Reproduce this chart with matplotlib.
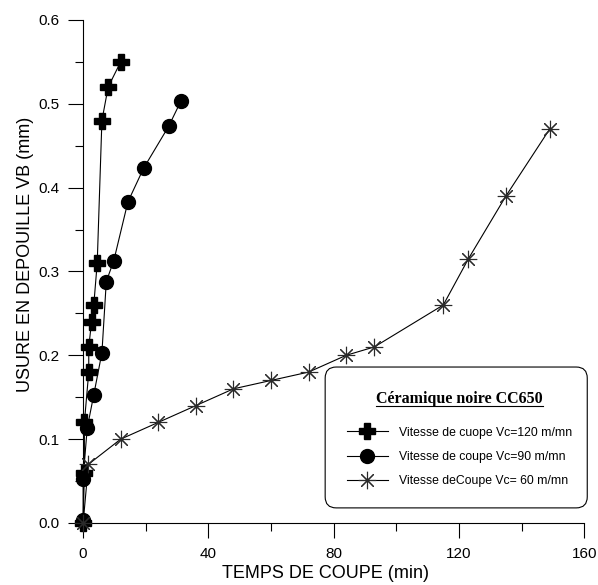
import matplotlib
matplotlib.use('Agg')
import matplotlib.pyplot as plt
from matplotlib.lines import Line2D
from matplotlib.patches import FancyBboxPatch
from matplotlib.ticker import MultipleLocator, FormatStrFormatter

plt.rcParams['font.family'] = ['Liberation Sans', 'DejaVu Sans']

# Vc = 120 m/mn
t120 = [0, 0.4, 0.4, 1.8, 1.8, 2.7, 3.4, 4.5, 6.0, 8.0, 12.0]
vb120 = [0.0, 0.06, 0.12, 0.18, 0.21, 0.24, 0.26, 0.31, 0.48, 0.52, 0.55]

# Vc = 90 m/mn
t90 = [0, 0, 1.3, 3.4, 6.0, 7.4, 9.8, 14.3, 19.3, 27.3, 31.2]
vb90 = [0.003, 0.053, 0.113, 0.153, 0.203, 0.288, 0.313, 0.383, 0.423, 0.473, 0.503]

# Vc = 60 m/mn
t60 = [0, 1.7, 12, 24, 36, 48, 60, 72, 84, 93, 115, 123, 135, 149]
vb60 = [0.0, 0.07, 0.10, 0.12, 0.14, 0.16, 0.17, 0.18, 0.20, 0.21, 0.26, 0.315, 0.39, 0.47]

labels = ['Vitesse de cuope Vc=120 m/mn',
          'Vitesse de coupe Vc=90 m/mn',
          'Vitesse deCoupe Vc= 60 m/mn']
legend_title = 'Céramique noire CC650'

fig = plt.figure(figsize=(5.98, 5.85), dpi=100)
ax = fig.add_axes([0.139, 0.106, 0.838, 0.860])

star = (8, 2, 0)
l1, = ax.plot(t120, vb120, color='black', lw=0.8, marker='P', ms=12,
              mfc='black', mec='black', clip_on=False, zorder=3)
l2, = ax.plot(t90, vb90, color='black', lw=0.8, marker='o', ms=10,
              mfc='black', mec='black', clip_on=False, zorder=3)
l3, = ax.plot(t60, vb60, color='black', lw=0.8, marker=star, ms=12.5,
              mec='#2a2a2a', mew=0.8, clip_on=False, zorder=3)

ax.set_xlim(0, 160)
ax.set_ylim(0, 0.6)
ax.xaxis.set_major_locator(MultipleLocator(40))
ax.xaxis.set_minor_locator(MultipleLocator(20))
ax.yaxis.set_major_locator(MultipleLocator(0.1))
ax.yaxis.set_minor_locator(MultipleLocator(0.05))
ax.yaxis.set_major_formatter(FormatStrFormatter('%.1f'))

ax.spines['top'].set_visible(False)
ax.spines['right'].set_visible(False)
for s in ['left', 'bottom']:
    ax.spines[s].set_linewidth(0.8)
ax.tick_params(which='major', direction='out', length=11, width=0.8,
               labelsize=11, pad=6)
ax.tick_params(which='minor', direction='out', length=6, width=0.8)

ax.set_xlabel('TEMPS DE COUPE (min)', fontsize=13)
ax.set_ylabel('USURE EN DEPOUILLE VB (mm)', fontsize=13)
ax.xaxis.set_label_coords(0.483, -0.084)
ax.yaxis.set_label_coords(-0.098, 0.533)

# legend box drawn separately (rounded corners)
box = FancyBboxPatch((0.483, 0.030), 0.523, 0.280,
                     boxstyle='round,pad=0,rounding_size=0.022',
                     transform=ax.transAxes, facecolor='white',
                     edgecolor='black', lw=0.8, clip_on=False, zorder=4)
ax.add_patch(box)

leg = ax.legend([l1, l2, l3], labels, title=legend_title,
                loc='upper left', bbox_to_anchor=(0.527, 0.262),
                borderaxespad=0, borderpad=0, frameon=False,
                fontsize=8.8, handlelength=3.3,
                handletextpad=0.95, labelspacing=1.0,
                title_fontproperties={'family': 'Liberation Serif',
                                      'weight': 'bold', 'size': 11.5})
leg.set_zorder(5)
leg._legend_box.sep = 14

fig.canvas.draw()
bb = leg.get_title().get_window_extent()
inv = fig.transFigure.inverted()
(x0, y0), (x1, _) = inv.transform([(bb.x0, bb.y0 + 1), (bb.x1, bb.y0)])
fig.add_artist(Line2D([x0, x1], [y0, y0], color='black', lw=0.8,
                      transform=fig.transFigure, zorder=6))

fig.savefig('out.png', dpi=100)
